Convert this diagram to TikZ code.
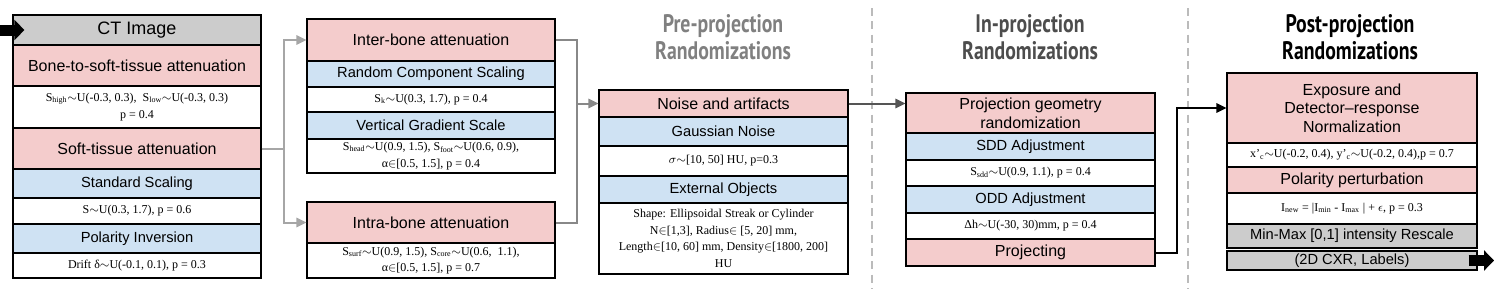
\documentclass[tikz,border=0pt]{standalone}
\usepackage{fontspec}
\setmainfont{Liberation Serif}
\setsansfont{Liberation Sans}
\newfontfamily\titlefont[FakeStretch=0.78]{PT Sans}
\usetikzlibrary{arrows.meta}
\definecolor{pinkc}{HTML}{F4CCCC}
\definecolor{bluec}{HTML}{CFE2F3}
\definecolor{grayc}{HTML}{CCCCCC}
\definecolor{cA}{HTML}{A6A6A6}
\definecolor{cB}{HTML}{888888}
\definecolor{cC}{HTML}{555555}
\definecolor{tPre}{HTML}{808080}
\definecolor{tIn}{HTML}{4D4D4D}
\definecolor{sepc}{HTML}{BBBBBB}
\newcommand\tl{\ensuremath{\sim}}
\newcommand\inn{\ensuremath{\in}}
\newcommand\titlesetup{\titlefont\bfseries\fontsize{19}{20}\selectfont\lineskiplimit=-30pt\relax}
\newcommand\cell[7]{%
  \node[#6, minimum width={(#3-#2)*0.75pt}, minimum height={(#5-#4)*0.75pt}] (#1) at ({(#2+#3)/2},{(#4+#5)/2}) {#7};}
\tikzset{
  box/.style={draw=black, line width=0.9pt, inner sep=0pt, align=center},
  pinkrow/.style={box, fill=pinkc, font=\sffamily\fontsize{12}{14}\selectfont},
  bluerow/.style={box, fill=bluec, font=\sffamily\fontsize{11}{13}\selectfont},
  grayrow/.style={box, fill=grayc, font=\sffamily\fontsize{11}{13}\selectfont},
  ctrow/.style={box, fill=grayc, font=\sffamily\fontsize{13.5}{15}\selectfont},
  whiterow/.style={box, fill=white, font=\rmfamily\fontsize{9}{12.5}\selectfont},
  title/.style={align=center, inner sep=0pt, font=\titlesetup},
  tip/.style={-{Triangle[length=7.5pt,width=7pt]}},
  connA/.style={draw=cA, line width=1.5pt},
  connB/.style={draw=cB, line width=1.5pt},
  connC/.style={draw=cC, line width=1.5pt},
  connD/.style={draw=black, line width=1.5pt},
  bigarrow/.style={draw=black, line width=8.25pt, -{Triangle[length=7.5pt,width=15pt]}},
  sepline/.style={draw=sepc, line width=1.5pt, dash pattern=on 6pt off 4pt}
}
\begin{document}
\begin{tikzpicture}[x=0.75pt,y=-0.75pt]
\useasboundingbox (0,0) rectangle (1494,289);
% titles
\node[title, text=tPre] (tpre) at (723,37) {Pre-projection\\Randomizations};
\node[title, text=tIn] (tin) at (1030,37) {In-projection\\Randomizations};
\node[title, text=black] (tpost) at (1350,37) {Post-projection\\Randomizations};
% separators
\draw[sepline] (872,8) -- (872,289);
\draw[sepline] (1188,8) -- (1188,289);
% column 1
\cell{ct}{13}{261}{15}{45}{ctrow}{CT Image}
\cell{bone}{13}{261}{45}{86}{pinkrow}{Bone-to-soft-tissue attenuation}
\cell{bonep}{13}{261}{86}{128}{whiterow}{S\textsubscript{high}\tl U(-0.3, 0.3),\ \ S\textsubscript{low}\tl U(-0.3, 0.3)\\p = 0.4}
\cell{soft}{13}{261}{128}{169}{pinkrow}{Soft-tissue attenuation}
\cell{std}{13}{261}{169}{198}{bluerow}{Standard Scaling}
\cell{stdp}{13}{261}{198}{224}{whiterow}{S\tl U(0.3, 1.7), p = 0.6}
\cell{pol}{13}{261}{224}{253}{bluerow}{Polarity Inversion}
\cell{polp}{13}{261}{253}{278}{whiterow}{Drift δ\tl U(-0.1, 0.1), p = 0.3}
% column 2
\cell{inter}{307}{555}{19}{61}{pinkrow}{Inter-bone attenuation}
\cell{rcs}{307}{555}{61}{87}{bluerow}{Random Component Scaling}
\cell{rcsp}{307}{555}{87}{112}{whiterow}{S\textsubscript{k}\tl U(0.3, 1.7), p = 0.4}
\cell{vgs}{307}{555}{112}{139}{bluerow}{Vertical Gradient Scale}
\cell{vgsp}{307}{555}{139}{173}{whiterow}{S\textsubscript{head}\tl U(0.9, 1.5), S\textsubscript{foot}\tl U(0.6, 0.9),\\α\inn[0.5, 1.5], p = 0.4}
\cell{intra}{307}{555}{202}{243}{pinkrow}{Intra-bone attenuation}
\cell{intrap}{307}{555}{243}{278}{whiterow}{S\textsubscript{surf}\tl U(0.9, 1.5), S\textsubscript{core}\tl U(0.6,\ \ 1.1),\\α\inn[0.5, 1.5], p = 0.7}
% column 3
\cell{noise}{599}{848}{90}{117}{pinkrow}{Noise and artifacts}
\cell{gau}{599}{848}{117}{146}{bluerow}{Gaussian Noise}
\cell{gaup}{599}{848}{146}{176}{whiterow}{$\sigma$\tl[10, 50] HU, p=0.3}
\cell{ext}{599}{848}{176}{203}{bluerow}{External Objects}
\cell{extp}{599}{848}{203}{274}{whiterow}{Shape: Ellipsoidal Streak or Cylinder\\N\inn[1,3], Radius\inn\ [5, 20] mm,\\Length\inn[10, 60] mm, Density\inn[1800, 200]\\HU}
% column 4
\cell{pg}{906}{1155}{93}{133}{pinkrow}{Projection geometry\\randomization}
\cell{sdd}{906}{1155}{133}{160}{bluerow}{SDD Adjustment}
\cell{sddp}{906}{1155}{160}{186}{whiterow}{S\textsubscript{sdd}\tl U(0.9, 1.1), p = 0.4}
\cell{odd}{906}{1155}{186}{213}{bluerow}{ODD Adjustment}
\cell{oddp}{906}{1155}{213}{239}{whiterow}{Δh\tl U(-30, 30)mm, p = 0.4}
\cell{proj}{906}{1155}{239}{266}{pinkrow}{Projecting}
% column 5
\cell{exp}{1227}{1477}{73}{143}{pinkrow}{Exposure and\\Detector–response\\Normalization}
\cell{expp}{1227}{1477}{143}{167}{whiterow}{x’\textsubscript{c}\tl U(-0.2, 0.4), y’\textsubscript{c}\tl U(-0.2, 0.4),p = 0.7}
\cell{polpert}{1227}{1477}{167}{193}{pinkrow}{Polarity perturbation}
\cell{polpertp}{1227}{1477}{193}{224}{whiterow}{I\textsubscript{new} = |I\textsubscript{min} - I\textsubscript{max} | + $\epsilon$, p = 0.3}
\cell{mm}{1227}{1477}{224}{248}{grayrow}{Min-Max [0,1] intensity Rescale}
\cell{out}{1227}{1477}{251}{270}{grayrow}{(2D CXR, Labels)}
% connectors
\coordinate (b1) at (284,149);
\draw[connA] (soft.east |- b1) -- (b1);
\draw[connA,tip] (b1) |- (inter.west);
\draw[connA,tip] (b1) |- (intra.west);
\coordinate (b2) at (577,103.5);
\draw[connB] (inter.east) -| (b2);
\draw[connB] (intra.east) -| (b2);
\draw[connB,tip] (b2) -- (noise.west);
\draw[connC,tip] (noise.east) -- (noise.east -| pg.west);
\coordinate (b4) at (1177,252.5);
\draw[connD,tip] (proj.east) -- (b4) |- (exp.west);
% input / output arrows
\coordinate (inS) at (0,30);
\draw[bigarrow] (inS) -- ([xshift=9pt]ct.west);
\coordinate (outE) at (1494,260.5);
\draw[bigarrow] ([xshift=-6.75pt]out.east) -- (outE);
\end{tikzpicture}
\end{document}
